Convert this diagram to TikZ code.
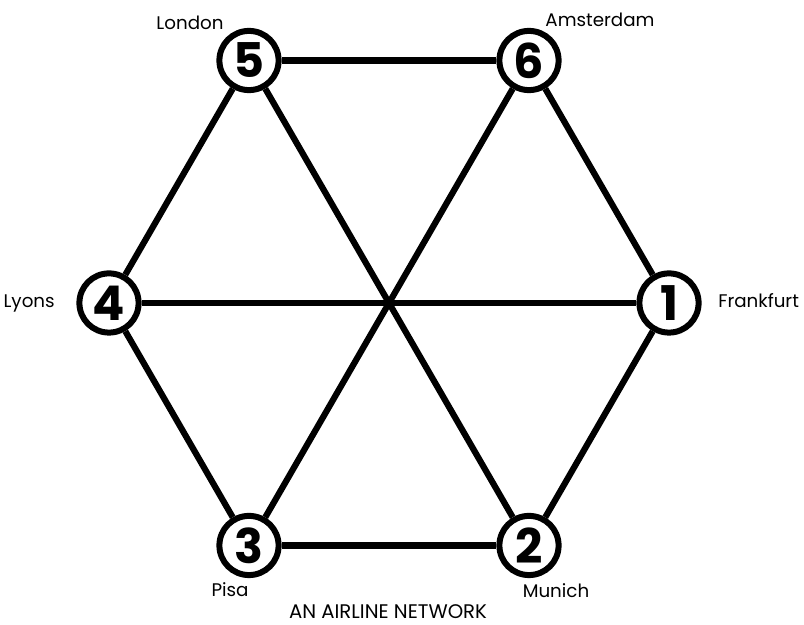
\documentclass[tikz,border=0pt]{standalone}
\usepackage{fontspec}
\setmainfont{Poppins}
\usetikzlibrary{positioning, calc}
\tikzset{
  citynode/.style={circle, draw=black, line width=1.5mm, minimum size=14.8mm,
    inner sep=0pt, fill=white, font=\fontsize{34}{34}\selectfont\bfseries},
  citylbl/.style={font=\fontsize{13}{13}\selectfont, inner sep=0pt},
  route/.style={line width=1.55mm, black},
  caption/.style={font=\fontsize{14}{14}\selectfont, inner sep=0pt},
}
\begin{document}
\begin{tikzpicture}[x=0.25mm,y=0.25mm]
\useasboundingbox (0,0) rectangle (804,625);
% hexagon of cities round the hub (radius 280)
\coordinate (hub) at (389,322);
\foreach \n/\a in {1/0,6/60,5/120,4/180,3/240,2/300}
  \node[citynode] (n\n) at ($(hub)+(\a:280)$) {\n};
% routes
\foreach \a/\b in {1/6,6/5,5/4,4/3,3/2,2/1,4/1,5/2,6/3}
  \draw[route] (n\a) -- (n\b);
% city names
\node[citylbl, anchor=base] (lLondon) at (190,595) {London};
\node[citylbl, anchor=base] (lAmsterdam) at (600,598) {Amsterdam};
\node[citylbl, anchor=base west] (lFrankfurt) at (718,317) {Frankfurt};
\node[citylbl, anchor=base east] (lLyons) at (55,317) {Lyons};
\node[citylbl, anchor=base] (lPisa) at (230,28) {Pisa};
\node[citylbl, anchor=base] (lMunich) at (556,27) {Munich};
\node[caption, anchor=base] (title) at (388,6) {AN AIRLINE NETWORK};
\end{tikzpicture}
\end{document}
